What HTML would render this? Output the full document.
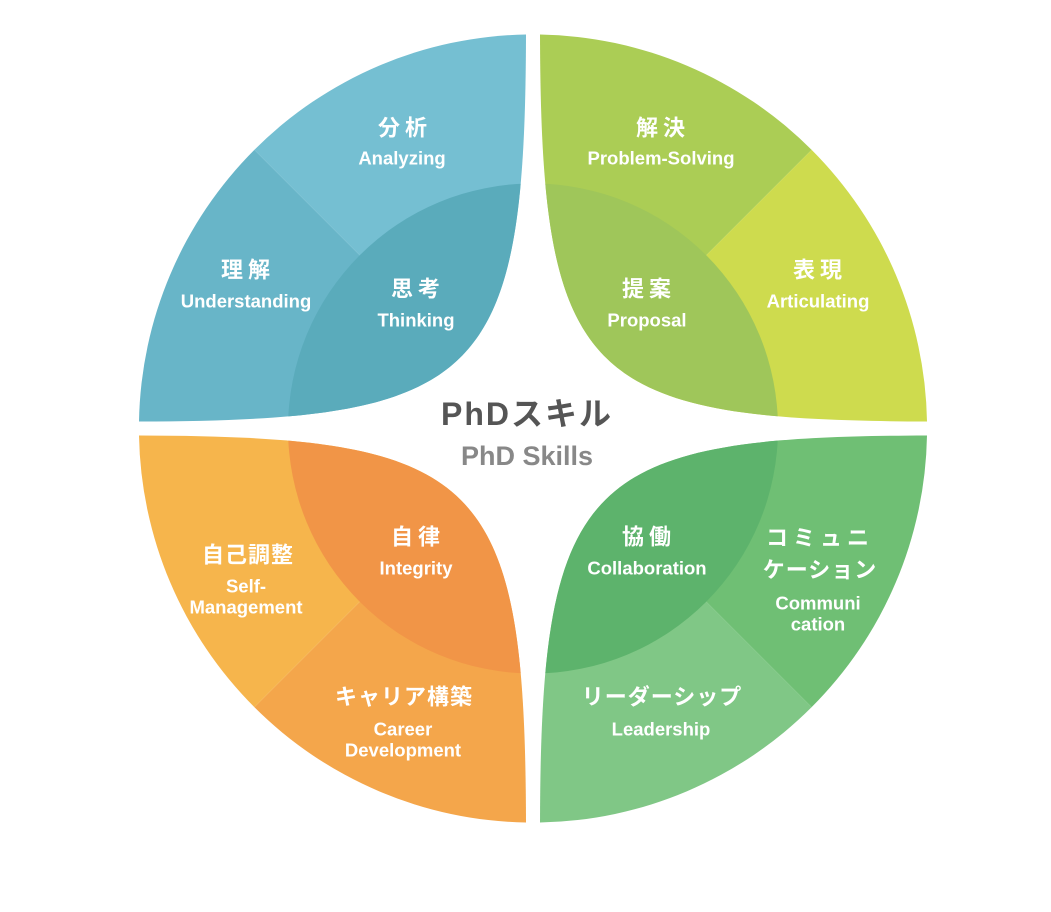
<!DOCTYPE html>
<html><head><meta charset="utf-8"><style>
html,body{margin:0;padding:0;background:#fff;}
svg{display:block}
.j{font-family:"Liberation Sans","Noto Sans CJK JP",sans-serif;font-weight:bold;font-size:22px;fill:#fff;letter-spacing:5px}
.e{font-family:"Liberation Sans","Noto Sans CJK JP",sans-serif;font-weight:bold;font-size:18.5px;fill:#fff}
</style></head><body>
<svg width="1051" height="912" viewBox="0 0 1051 912" xmlns="http://www.w3.org/2000/svg">
<defs>
<path id="q" d="M -7,-394 A 394 394 0 0 0 -394,-7 C -52,-8 -8,-48 -7,-394 Z"/>
<clipPath id="cq"><use href="#q"/></clipPath>
</defs>
<g transform="translate(533,428.5)">
 <g clip-path="url(#cq)">
  <path d="M0,0 L-400,-400 L0,-400 Z" fill="#75bfd2"/>
  <path d="M0,0 L-400,-400 L-400,0 Z" fill="#68b5c8"/>
  <circle r="245" fill="#5aabbb"/>
 </g>
 <g transform="scale(-1,1)" clip-path="url(#cq)">
  <path d="M0,0 L-400,-400 L0,-400 Z" fill="#abcd55"/>
  <path d="M0,0 L-400,-400 L-400,0 Z" fill="#cedb4e"/>
  <circle r="245" fill="#9fc65a"/>
 </g>
 <g transform="scale(1,-1)" clip-path="url(#cq)">
  <path d="M0,0 L-400,-400 L0,-400 Z" fill="#f4a64b"/>
  <path d="M0,0 L-400,-400 L-400,0 Z" fill="#f6b54c"/>
  <circle r="245" fill="#f19547"/>
 </g>
 <g transform="scale(-1,-1)" clip-path="url(#cq)">
  <path d="M0,0 L-400,-400 L0,-400 Z" fill="#80c786"/>
  <path d="M0,0 L-400,-400 L-400,0 Z" fill="#6fbf74"/>
  <circle r="245" fill="#5db36c"/>
 </g>
</g>
<g text-anchor="middle" dominant-baseline="central">
<text class="j" x="405" y="128">分析</text><text class="e" x="402" y="158">Analyzing</text>
<text class="j" x="248" y="270">理解</text><text class="e" x="246" y="301">Understanding</text>
<text class="j" x="418" y="289">思考</text><text class="e" x="416" y="320">Thinking</text>
<text class="j" x="663" y="128">解決</text><text class="e" x="661" y="158">Problem-Solving</text>
<text class="j" x="820" y="270">表現</text><text class="e" x="818" y="301">Articulating</text>
<text class="j" x="649" y="289">提案</text><text class="e" x="647" y="320">Proposal</text>
<text x="527" y="414" font-family="Liberation Sans,Noto Sans CJK JP,sans-serif" font-weight="bold" font-size="32" fill="#555" letter-spacing="2">PhDスキル</text>
<text x="527" y="456" font-family="Liberation Sans,sans-serif" font-weight="bold" font-size="27" fill="#888">PhD Skills</text>
<text class="j" x="418" y="537">自律</text><text class="e" x="416" y="568">Integrity</text>
<text class="j" x="248" y="555" style="letter-spacing:1px">自己調整</text><text class="e" x="246" y="586">Self-</text><text class="e" x="246" y="607">Management</text>
<text class="j" x="404" y="697" style="letter-spacing:1px">キャリア構築</text><text class="e" x="403" y="729">Career</text><text class="e" x="403" y="750">Development</text>
<text class="j" x="649" y="537">協働</text><text class="e" x="647" y="568">Collaboration</text>
<text class="j" x="820" y="538">コミュニ</text><text class="j" x="820" y="570" style="letter-spacing:1px">ケーション</text><text class="e" x="818" y="603">Communi</text><text class="e" x="818" y="624">cation</text>
<text class="j" x="662" y="697" style="letter-spacing:1px">リーダーシップ</text><text class="e" x="661" y="729">Leadership</text>
</g>
</svg>
</body></html>
